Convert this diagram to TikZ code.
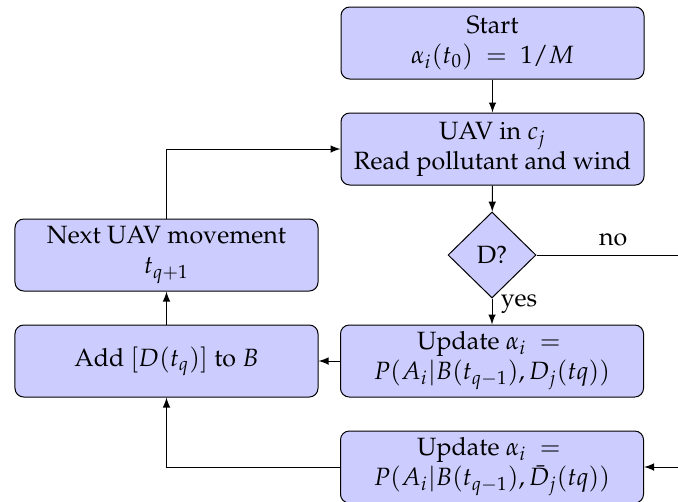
\documentclass[tikz,border=0pt]{standalone}
\usepackage[T1]{fontenc}
\usepackage{mathpazo}
\usetikzlibrary{shapes.geometric}
\begin{document}
\begin{tikzpicture}[x=0.4pt,y=-0.4pt,
  block/.style={rectangle, draw, fill=blue!20, rounded corners=3.5pt,
    minimum width=121.2pt, minimum height=28.8pt, align=center, inner sep=0pt},
  decision/.style={diamond, draw, fill=blue!20, minimum width=35.2pt,
    minimum height=34.4pt, inner sep=0pt},
  flow/.style={draw, -latex}]
\useasboundingbox (0,0) rectangle (678,501);
\clip (0,0) rectangle (678,501);

% right column
\node[block] (start) at (492.5,43) {Start\\ $\alpha_i(t_0) \ = \ 1/M$};
\node[block] (uav) at (492.5,149) {UAV in $c_j$\\ Read pollutant and wind};
\node[decision] (dec) at (492,255) {D?};
\node[block] (up1) at (492,361) {Update $\alpha_i \ = \ $\\ $P(A_i|B(t_{q-1}),D_j(tq))$};
\node[block] (up2) at (492,467) {Update $\alpha_i \ = \ $\\ $P(A_i|B(t_{q-1}),\bar{D}_j(tq))$};

% left column
\node[block] (next) at (166.5,255) {Next UAV movement\\ $t_{q+1}$};
\node[block] (add) at (166.5,361) {Add $[D(t_q)]$ to $B$};

% turning point of the "no" branch
\coordinate (turn) at (690,255);

% connectors
\draw[flow] (start) -- (uav);
\draw[flow] (uav) -- (dec);
\draw[flow] (dec) -- node[pos=0.2, right] {yes} (up1);
\draw[flow] (dec) -- node[above] {no} (turn) |- (up2);
\draw[flow] (up1) -- (add);
\draw[flow] (up2) -| (add);
\draw[flow] (add) -- (next);
\draw[flow] (next) |- (uav);
\end{tikzpicture}
\end{document}
